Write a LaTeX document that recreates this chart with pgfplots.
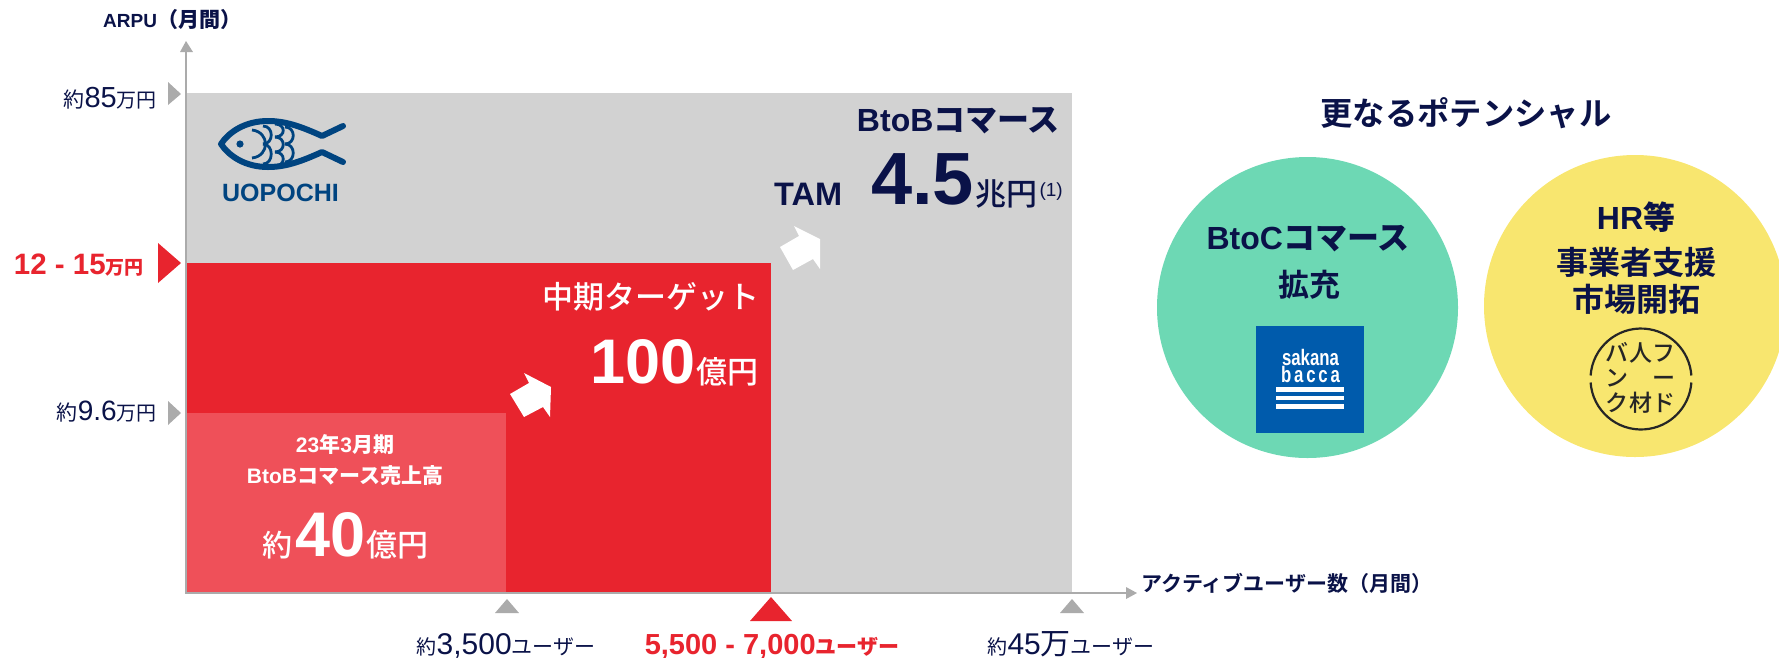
\documentclass[border=0pt]{standalone}
\usepackage{pgfplots}
\pgfplotsset{compat=1.18}
\usepackage{graphicx}
\usepackage{fontspec}
\setmainfont{Liberation Sans}
\newfontfamily\jp{Noto Sans CJK JP Medium}
\newfontfamily\jpr{Noto Sans CJK JP}
\newfontfamily\jpb{Noto Sans CJK JP Bold}
\definecolor{navy}{HTML}{0A1248}
\definecolor{band}{HTML}{D2D2D2}
\definecolor{hot}{HTML}{E8242E}
\definecolor{soft}{HTML}{EF5059}
\definecolor{axisgray}{HTML}{ABABAB}
\definecolor{teal}{HTML}{6DD8B4}
\definecolor{sun}{HTML}{F8E66F}
\definecolor{fish}{HTML}{004480}
\definecolor{bacca}{HTML}{005BAC}
\newcommand{\sz}[1]{\fontsize{#1}{#1}\selectfont}
% \lab{x}{baseline y}{anchor}{colour}{content}
\newcommand{\lab}[5]{\node[anchor=#3,inner sep=0pt,text=#4,font=\sz{20}] at (axis cs:#1,#2) {#5};}
\newcommand{\tri}[2]{\addplot[fill=#1,draw=none] coordinates {#2} -- cycle;}
% one scale of the fish emblem
\newcommand{\scl}[3]{\draw[fish,line width=2.8pt] (axis cs:#1,#2) .. controls (axis cs:#1+11,#2) and (axis cs:#1+11,#3) .. (axis cs:#1,#3);}
\begin{document}
\begin{tikzpicture}
\useasboundingbox (0,0) rectangle (1779pt,657pt);
\begin{axis}[
  scale only axis, width=1779pt, height=657pt,
  xmin=0, xmax=1779, ymin=0, ymax=657, y dir=reverse,
  hide axis, clip=true]

% nested market rectangles
\addplot[fill=band,draw=none] coordinates {(187,93) (1072,93) (1072,592) (187,592)} -- cycle;
\addplot[fill=hot,draw=none] coordinates {(187,263) (771,263) (771,592) (187,592)} -- cycle;
\addplot[fill=soft,draw=none] coordinates {(187,413) (506,413) (506,592) (187,592)} -- cycle;

% axes
\addplot[axisgray,line width=2.6pt] coordinates {(186,593) (186,50)};
\addplot[axisgray,line width=2.6pt] coordinates {(185,593) (1128,593)};
\tri{axisgray}{(186,41) (193,52) (180,52)}
\tri{axisgray}{(1137,593) (1126,587) (1126,599)}

% axis markers
\tri{axisgray}{(168,82) (181,94) (168,105)}
\tri{axisgray}{(168,401) (181,413) (168,425)}
\tri{hot}{(158,243) (181,263) (158,283)}
\tri{axisgray}{(507,599) (519,613) (495,613)}
\tri{hot}{(771,597) (792,621) (750,621)}
\tri{axisgray}{(1072,599) (1084,613) (1060,613)}

% growth arrows
\tri{white}{(524,373) (551,387) (550,417) (543,407) (524,417) (510,394) (529,383)}
\tri{white}{(794,226) (820,239) (820,269) (813,259) (793,270) (780,247) (799,236)}

% potential circles
\fill[teal] (axis cs:1307.5,307.5) circle [radius=150.5pt];
\fill[sun] (axis cs:1635,306) circle [radius=151pt];

% axis titles
\lab{103}{27}{base west}{navy}{\bfseries\sz{19}ARPU{\jpb\sz{21}（月間）}}
\lab{1141}{591}{base west}{navy}{\sz{21}\jpb アクティブユーザー数（月間）}

% y labels
\lab{157}{107}{base east}{navy}{{\jpr\sz{21}約}{\sz{29}85}{\jpr\sz{20}万円}}
\lab{157}{420}{base east}{navy}{{\jpr\sz{21}約}{\sz{28}9.6}{\jpr\sz{20}万円}}
\lab{144}{274}{base east}{hot}{\bfseries{\sz{29.5}12 - 15}{\jpb\sz{19}万円}}

% x labels
\lab{506}{654}{base}{navy}{{\jpr\sz{20}約}{\sz{30}3,500}{\jpr\sz{21}ユーザー}}
\lab{772}{654}{base}{hot}{\bfseries{\sz{29}5,500 - 7,000}{\jpb\sz{21}ユーザー}}
\lab{1071}{654}{base}{navy}{{\jpr\sz{20}約}{\sz{30}45}{\jpr\sz{30}万}{\jpr\sz{21}ユーザー}}

% TAM block
\lab{1060}{131}{base east}{navy}{\bfseries\sz{32}BtoB{\jpb コマース}}
\lab{774}{205}{base west}{navy}{\bfseries\sz{32.5}TAM}
\lab{871}{204}{base west}{navy}{\bfseries\sz{74}4.5}
\lab{975}{205}{base west}{navy}{\jp\sz{31}兆円}
\lab{1063}{196}{base east}{navy}{\sz{19}(1)}

% mid-term target block
\lab{760}{308}{base east}{white}{\jp\sz{31}中期ターゲット}
\lab{696}{383}{base east}{white}{\bfseries\sz{63}100}
\lab{759}{383}{base east}{white}{\jp\sz{31}億円}

% current revenue block
\lab{345}{452}{base}{white}{\bfseries\sz{21}23{\jpb 年}3{\jpb 月期}}
\lab{345}{483}{base}{white}{\bfseries\sz{21}BtoB{\jpb コマース売上高}}
\lab{262}{556}{base west}{white}{\jp\sz{30}約}
\lab{295}{556}{base west}{white}{\bfseries\sz{63}40}
\lab{429}{556}{base east}{white}{\jp\sz{31}億円}

% right-hand panel
\lab{1466}{125}{base}{navy}{\jpb\sz{32.3}更なるポテンシャル}
\lab{1308}{249}{base}{navy}{\bfseries\sz{32}BtoC{\jpb コマース}}
\lab{1309}{296}{base}{navy}{\jpb\sz{31}拡充}
\lab{1636}{229}{base}{navy}{\bfseries\sz{32}HR{\jpb 等}}
\lab{1636}{274}{base}{navy}{\jpb\sz{32}事業者支援}
\lab{1636}{311}{base}{navy}{\jpb\sz{32}市場開拓}

% sakana bacca badge
\fill[bacca] (axis cs:1256,326) rectangle (axis cs:1364,433);
\lab{1310.5}{365}{base}{white}{\scalebox{0.84}[1.12]{\bfseries\sz{20}sakana}}
\lab{1310.5}{382}{base}{white}{\scalebox{0.84}[1.12]{\bfseries\sz{20}b\,a\,c\,c\,a}}
\fill[white] (axis cs:1276,387) rectangle (axis cs:1344,391.5);
\fill[white] (axis cs:1276,395.5) rectangle (axis cs:1344,400);
\fill[white] (axis cs:1276,404) rectangle (axis cs:1344,408.5);

% food-bank badge
\draw[black!85,line width=2.2pt] (axis cs:1590.6,375.5) arc [start angle=176,end angle=4,radius=50.5pt];
\draw[black!85,line width=2.2pt] (axis cs:1590.6,382.5) arc [start angle=184,end angle=356,radius=50.5pt];
\lab{1617}{361}{base}{black!85}{\jp\sz{23}バ}
\lab{1617}{386}{base}{black!85}{\jp\sz{23}ン}
\lab{1617}{411}{base}{black!85}{\jp\sz{23}ク}
\lab{1641}{361}{base}{black!85}{\jp\sz{23}人}
\lab{1641}{411}{base}{black!85}{\jp\sz{23}材}
\lab{1664}{361}{base}{black!85}{\jp\sz{23}フ}
\lab{1664}{386}{base}{black!85}{\jp\sz{23}ー}
\lab{1664}{411}{base}{black!85}{\jp\sz{23}ド}

% fish emblem
\draw[fish,line width=6pt,line join=round,line cap=round]
  (axis cs:343,126) -- (axis cs:322,136)
  .. controls (axis cs:300,126) and (axis cs:285,121) .. (axis cs:268,121)
  .. controls (axis cs:245,121) and (axis cs:229,132) .. (axis cs:221,144)
  .. controls (axis cs:229,156) and (axis cs:245,167) .. (axis cs:268,167)
  .. controls (axis cs:285,167) and (axis cs:300,162) .. (axis cs:322,152)
  -- (axis cs:343,162);
\fill[fish] (axis cs:240,144) circle [radius=3.6pt];
\draw[fish,line width=2.8pt] (axis cs:252,130) .. controls (axis cs:270,132) and (axis cs:270,156) .. (axis cs:252,158);
\scl{263}{126}{144}
\scl{263}{144}{164}
\scl{275}{124}{137}
\scl{275}{137}{152}
\scl{275}{152}{166}
\scl{285}{127}{144}
\scl{285}{144}{162}
\lab{280.5}{201}{base}{fish}{\bfseries\sz{25}UOPOCHI}
\end{axis}
\end{tikzpicture}
\end{document}
